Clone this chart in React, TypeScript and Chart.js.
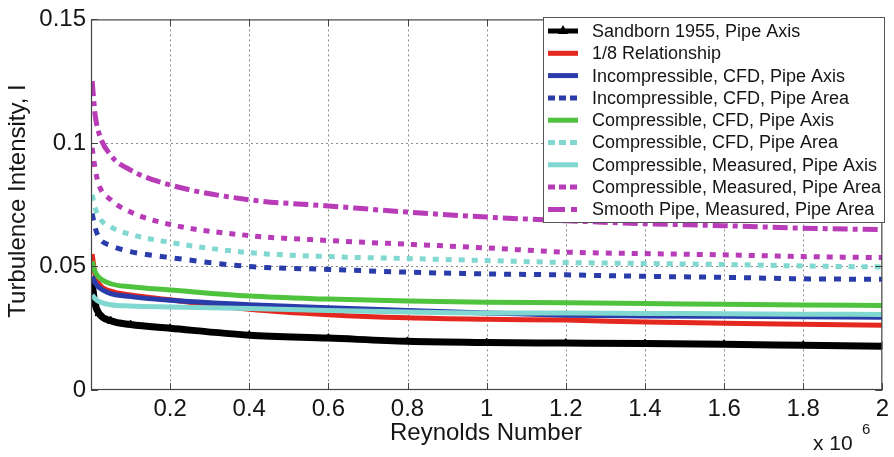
import { useEffect, useRef } from "react";
import { Chart, registerables } from "chart.js";

Chart.register(...registerables);

// Reynolds number, in units of 10^6
const reynolds = [0.003, 0.01, 0.02, 0.05, 0.1, 0.2, 0.4, 0.6, 0.8, 1.0, 1.2, 1.4, 1.6, 1.8, 2.0];

const xTicks = [0.2, 0.4, 0.6, 0.8, 1.0, 1.2, 1.4, 1.6, 1.8, 2.0];
const xTickLabels = ["0.2", "0.4", "0.6", "0.8", "1", "1.2", "1.4", "1.6", "1.8", "2"];
const yTicks = [0, 0.05, 0.1, 0.15];
const yTickLabels = ["0", "0.05", "0.1", "0.15"];

const seriesNames = [
  "Sandborn 1955, Pipe Axis",
  "1/8 Relationship",
  "Incompressible, CFD, Pipe Axis",
  "Incompressible, CFD, Pipe Area",
  "Compressible, CFD, Pipe Axis",
  "Compressible, CFD, Pipe Area",
  "Compressible, Measured, Pipe Axis",
  "Compressible, Measured, Pipe Area",
  "Smooth Pipe, Measured, Pipe Area",
];

const sandbornAxis = [0.043, 0.035, 0.031, 0.028, 0.0265, 0.025, 0.0222, 0.021, 0.0197, 0.0192, 0.019, 0.0188, 0.0185, 0.0181, 0.0177];
const oneEighth = [0.055, 0.047, 0.0431, 0.04, 0.0385, 0.0365, 0.0327, 0.0305, 0.0292, 0.0286, 0.0283, 0.0275, 0.027, 0.0266, 0.0262];
const incompCfdAxis = [0.046, 0.0435, 0.0415, 0.039, 0.0378, 0.0363, 0.0345, 0.0333, 0.0322, 0.0312, 0.0303, 0.03, 0.0298, 0.0296, 0.0294];
const incompCfdArea = [0.0714, 0.066, 0.0617, 0.0585, 0.056, 0.0536, 0.05, 0.0488, 0.0477, 0.047, 0.0466, 0.046, 0.0456, 0.045, 0.0448];
const compCfdAxis = [0.052, 0.048, 0.0456, 0.043, 0.0418, 0.0405, 0.038, 0.0368, 0.036, 0.0355, 0.0353, 0.035, 0.0347, 0.0344, 0.0342];
const compCfdArea = [0.079, 0.074, 0.07, 0.066, 0.063, 0.0597, 0.0556, 0.054, 0.0532, 0.0524, 0.0516, 0.0512, 0.0508, 0.0502, 0.0498];
const compMeasAxis = [0.0385, 0.037, 0.0358, 0.0345, 0.034, 0.0336, 0.033, 0.0322, 0.0316, 0.0312, 0.0312, 0.031, 0.0309, 0.0307, 0.0306];
const compMeasArea = [0.098, 0.09, 0.083, 0.077, 0.072, 0.067, 0.0625, 0.0605, 0.059, 0.0575, 0.0558, 0.0552, 0.0547, 0.054, 0.0536];
const smoothMeasArea = [0.125, 0.112, 0.104, 0.095, 0.089, 0.083, 0.077, 0.0745, 0.072, 0.07, 0.0685, 0.0673, 0.0665, 0.0655, 0.0649];

const seriesValues = [
  sandbornAxis, oneEighth, incompCfdAxis, incompCfdArea, compCfdAxis,
  compCfdArea, compMeasAxis, compMeasArea, smoothMeasArea,
];

const seriesColors = ["#000000", "#e5281f", "#2a3caa", "#2a3caa", "#4fc33e", "#80d8d0", "#80d8d0", "#b83cb8", "#b83cb8"];
const seriesDash: number[][] = [[], [], [], [7, 8], [], [6, 7], [], [6, 7], [15, 5, 5, 5]];
const legendDash: number[][] = [[], [], [], [7, 4], [], [7, 4], [], [7, 4], [17, 6, 6, 10]];

const FONT = "'Liberation Sans', Arial, sans-serif";
const TEXT = "#151515";

const decorPlugin = {
  id: "decor",
  beforeDatasetsDraw(chart: any) {
    const { ctx, chartArea, scales } = chart;
    const { left, right, top, bottom } = chartArea;
    ctx.save();
    ctx.strokeStyle = "#8a8a8a";
    ctx.lineWidth = 1;
    ctx.setLineDash([2, 3]);
    xTicks.forEach((v) => {
      const x = Math.round(scales.x.getPixelForValue(v)) + 0.5;
      if (x >= right - 1) return;
      ctx.beginPath();
      ctx.moveTo(x, top);
      ctx.lineTo(x, bottom);
      ctx.stroke();
    });
    yTicks.forEach((v) => {
      const y = Math.round(scales.y.getPixelForValue(v)) + 0.5;
      if (y <= top + 1 || y >= bottom - 1) return;
      ctx.beginPath();
      ctx.moveTo(left, y);
      ctx.lineTo(right, y);
      ctx.stroke();
    });
    ctx.restore();
  },
  afterDatasetsDraw(chart: any) {
    const { ctx, chartArea, scales } = chart;
    const { left, right, top, bottom } = chartArea;
    ctx.save();
    // box
    ctx.strokeStyle = "#444";
    ctx.lineWidth = 1.2;
    ctx.setLineDash([]);
    ctx.strokeRect(left + 0.5, top + 0.5, right - left - 1, bottom - top - 1);
    // inner ticks
    ctx.lineWidth = 1;
    const tl = 7;
    xTicks.forEach((v) => {
      const x = Math.round(scales.x.getPixelForValue(v)) + 0.5;
      ctx.beginPath();
      ctx.moveTo(x, bottom);
      ctx.lineTo(x, bottom - tl);
      ctx.moveTo(x, top);
      ctx.lineTo(x, top + tl);
      ctx.stroke();
    });
    yTicks.forEach((v) => {
      const y = Math.round(scales.y.getPixelForValue(v)) + 0.5;
      ctx.beginPath();
      ctx.moveTo(left, y);
      ctx.lineTo(left + tl, y);
      ctx.moveTo(right, y);
      ctx.lineTo(right - tl, y);
      ctx.stroke();
    });

    // legend
    const bx = 543.5, by = 17.5, bw = 341, bh = 205;
    ctx.fillStyle = "#ffffff";
    ctx.fillRect(bx, by, bw, bh);
    ctx.strokeStyle = "#555";
    ctx.lineWidth = 1;
    ctx.strokeRect(bx, by, bw, bh);
    ctx.font = `18px ${FONT}`;
    ctx.textBaseline = "middle";
    ctx.textAlign = "left";
    seriesNames.forEach((name, i) => {
      const y = 31 + i * 22.3;
      ctx.strokeStyle = seriesColors[i];
      ctx.lineWidth = 5;
      ctx.setLineDash(legendDash[i]);
      ctx.beginPath();
      ctx.moveTo(548, y);
      ctx.lineTo(578, y);
      ctx.stroke();
      ctx.setLineDash([]);
      if (i === 0) {
        ctx.fillStyle = "#000";
        ctx.beginPath();
        ctx.moveTo(563, y - 6);
        ctx.lineTo(568, y + 3);
        ctx.lineTo(558, y + 3);
        ctx.closePath();
        ctx.fill();
      }
      ctx.fillStyle = TEXT;
      ctx.fillText(name, 592, y + 1);
    });

    ctx.restore();
  },
  afterDraw(chart: any) {
    const { ctx } = chart;
    ctx.save();
    ctx.fillStyle = TEXT;
    ctx.font = `24px ${FONT}`;
    ctx.textAlign = "center";
    ctx.textBaseline = "middle";
    // y title
    ctx.save();
    ctx.translate(18, 201);
    ctx.rotate(-Math.PI / 2);
    ctx.fillText("Turbulence Intensity, I", 0, 0);
    ctx.restore();
    // x title
    ctx.textBaseline = "alphabetic";
    ctx.fillText("Reynolds Number", 486, 440);
    // multiplier
    ctx.textAlign = "left";
    ctx.font = `21px ${FONT}`;
    ctx.fillText("x 10", 813, 450);
    ctx.font = `15px ${FONT}`;
    ctx.fillText("6", 862, 434);
    ctx.restore();
  },
};

export default function App() {
  const canvasRef = useRef<HTMLCanvasElement | null>(null);

  useEffect(() => {
    if (!canvasRef.current) return;
    const datasets = seriesNames.map((name, i) => ({
      label: name,
      data: reynolds.map((x, j) => ({ x, y: seriesValues[i][j] })),
      borderColor: seriesColors[i],
      backgroundColor: seriesColors[i],
      borderWidth: i === 0 ? 7 : 5,
      borderDash: seriesDash[i],
      cubicInterpolationMode: "monotone" as const,
      pointRadius: i === 0 ? 4.5 : 0,
      pointStyle: "triangle" as const,
      pointBackgroundColor: "#000",
      pointBorderColor: "#000",
      pointBorderWidth: 1,
      fill: false,
      order: seriesNames.length - i,
    }));

    const chart = new Chart(canvasRef.current, {
      type: "line",
      data: { datasets },
      options: {
        responsive: false,
        animation: false,
        devicePixelRatio: 1,
        layout: { padding: { top: 17, right: 9, left: 0, bottom: 0 } },
        plugins: {
          legend: { display: false },
          tooltip: { enabled: false },
        },
        scales: {
          x: {
            type: "linear",
            min: 0,
            max: 2,
            afterBuildTicks: (s: any) => {
              s.ticks = xTicks.map((v) => ({ value: v }));
            },
            afterFit: (s: any) => {
              s.height = 67;
            },
            grid: { display: false, drawTicks: false },
            border: { display: false },
            ticks: {
              autoSkip: false,
              maxRotation: 0,
              padding: 5,
              color: TEXT,
              font: { family: FONT, size: 24 },
              callback: (v: any) => {
                const i = xTicks.findIndex((t) => Math.abs(t - Number(v)) < 1e-9);
                return i >= 0 ? xTickLabels[i] : "";
              },
            },
          },
          y: {
            type: "linear",
            min: 0,
            max: 0.15,
            afterBuildTicks: (s: any) => {
              s.ticks = yTicks.map((v) => ({ value: v }));
            },
            afterFit: (s: any) => {
              s.width = 91;
            },
            grid: { display: false, drawTicks: false },
            border: { display: false },
            ticks: {
              autoSkip: false,
              padding: 5,
              color: TEXT,
              font: { family: FONT, size: 24 },
              callback: (v: any) => {
                const i = yTicks.findIndex((t) => Math.abs(t - Number(v)) < 1e-9);
                return i >= 0 ? yTickLabels[i] : "";
              },
            },
          },
        },
      },
      plugins: [decorPlugin],
    });
    return () => chart.destroy();
  }, []);

  return (
    <div style={{ position: "absolute", left: 0, top: 0, width: 894, height: 457, background: "#fff" }}>
      <canvas ref={canvasRef} width={894} height={457} />
    </div>
  );
}
